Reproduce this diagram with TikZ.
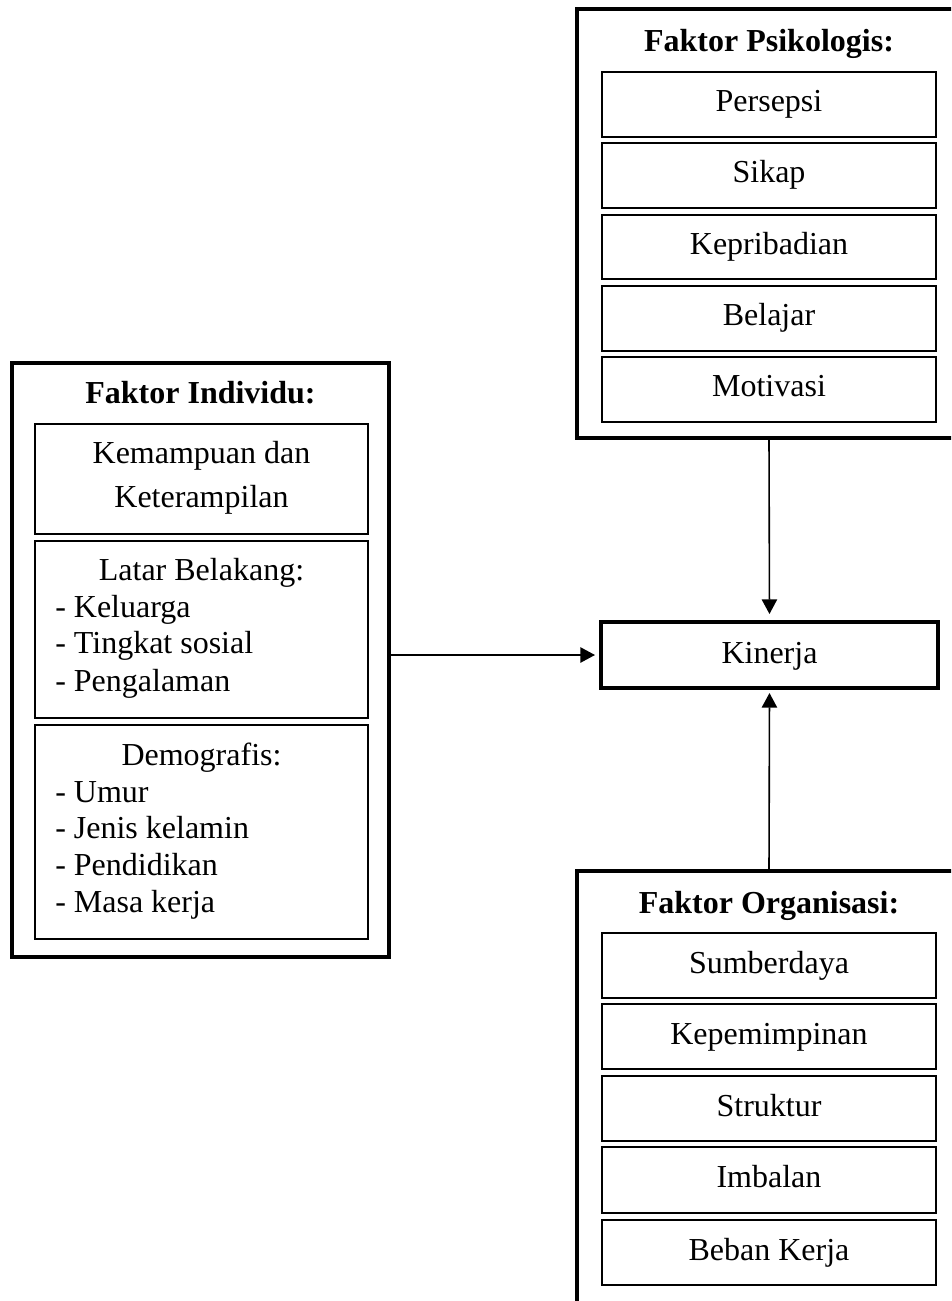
\documentclass[tikz,border=0pt]{standalone}
\usepackage{fontspec}
\setmainfont{Liberation Serif}
\usetikzlibrary{fit,arrows.meta}
\begin{document}
\begin{tikzpicture}[x=0.75pt,y=-0.75pt,
  outerbox/.style={draw,line width=3pt,inner sep=0pt,outer sep=0pt},
  innerbox/.style={draw,line width=1.3pt,inner sep=0pt,outer sep=0pt},
  kinbox/.style={draw,line width=2.5pt,inner sep=0pt,outer sep=0pt},
  txt/.style={inner sep=0pt,anchor=base,font=\fontsize{24pt}{28pt}\selectfont},
  ttl/.style={inner sep=0pt,anchor=base,font=\fontsize{24pt}{28pt}\selectfont\bfseries},
  listtxt/.style={inner sep=0pt,anchor=base west,font=\fontsize{24pt}{28pt}\selectfont},
  arr/.style={line width=1.2pt,-{Triangle[length=11pt,width=11.5pt]}}
]
\useasboundingbox (0,0) rectangle (951,1301);
\fill[white] (0,0) rectangle (951,1301);
\clip (0,0) rectangle (951,1301);

% Faktor Individu
\node[outerbox,fit={(12,363)(389,957)}] (ind) {};
\node[ttl] (indT) at (200.5,403) {Faktor Individu:};
\node[innerbox,fit={(35,424)(368,534)}] (kem) {};
\node[txt] (kem1) at (201.5,463) {Kemampuan dan};
\node[txt] (kem2) at (201.5,507) {Keterampilan};
\node[innerbox,fit={(35,541)(368,718)}] (lat) {};
\node[txt] (latT) at (201.5,580) {Latar Belakang:};
\node[listtxt] (lat1) at (55,617) {- Keluarga};
\node[listtxt] (lat2) at (55,653) {- Tingkat sosial};
\node[listtxt] (lat3) at (55,691) {- Pengalaman};
\node[innerbox,fit={(35,725)(368,939)}] (dem) {};
\node[txt] (demT) at (201.5,765) {Demografis:};
\node[listtxt] (dem1) at (55,802) {- Umur};
\node[listtxt] (dem2) at (55,838) {- Jenis kelamin};
\node[listtxt] (dem3) at (55,875) {- Pendidikan};
\node[listtxt] (dem4) at (55,912) {- Masa kerja};

% Faktor Psikologis
\node[outerbox,fit={(577,9)(961,438)}] (psi) {};
\node[ttl] (psiT) at (769,52) {Faktor Psikologis:};
\foreach \t/\b/\s [count=\i] in {72/137/Persepsi,143/208/Sikap,215/279/Kepribadian,286/351/Belajar,357/422/Motivasi}{
  \node[innerbox,fit={(602,\t)(936,\b)}] (psi\i) {};
  \node[txt] (psiL\i) at (769,\t+40) {\s};
}

% Kinerja
\node[kinbox,fit={(601,622)(938,688)}] (kin) {};
\node[txt] (kinT) at (769.5,663) {Kinerja};

% Faktor Organisasi
\node[outerbox,fit={(577,871)(961,1308)}] (org) {};
\node[ttl] (orgT) at (769,913) {Faktor Organisasi:};
\foreach \t/\b/\s [count=\i] in {933/998/Sumberdaya,1004/1069/Kepemimpinan,1076/1141/Struktur,1147/1213/Imbalan,1220/1285/Beban Kerja}{
  \node[innerbox,fit={(602,\t)(936,\b)}] (org\i) {};
  \node[txt] (orgL\i) at (769,\t+40) {\s};
}

% connectors
\draw[arr,shorten >=6pt] (psi.south) -- (kin.north);
\draw[arr,shorten >=3.75pt] (org.north) -- (kin.south);
\draw[arr,shorten >=4.5pt] (kin.west -| ind.east) -- (kin.west);
\end{tikzpicture}
\end{document}
